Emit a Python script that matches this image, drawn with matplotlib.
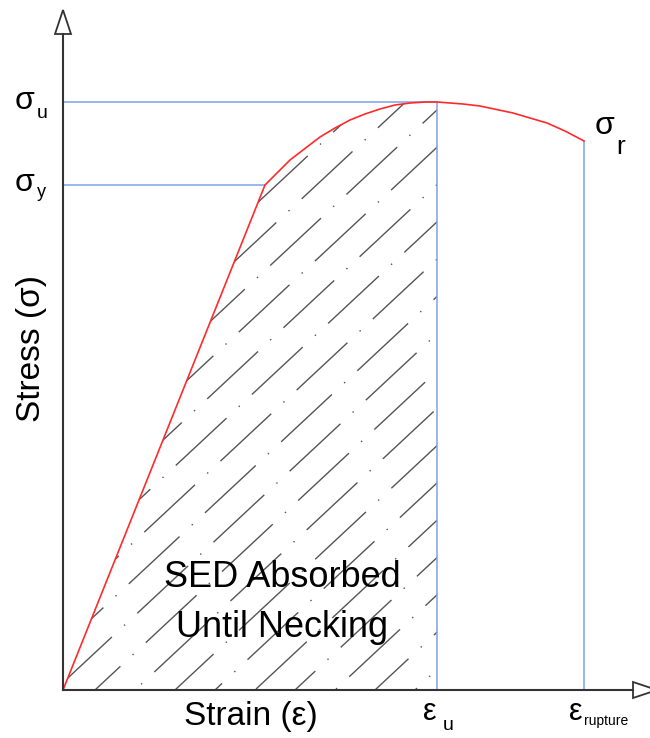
import numpy as np
import matplotlib.pyplot as plt
from matplotlib.patches import Polygon

# === Dados ===
# curva tensão-deformação (unidades arbitrárias)
deformacao = [0, 202, 215, 227, 240, 257, 272, 287, 302, 317, 332, 347, 362, 374,
              400, 417, 450, 484, 502, 521]
tensao = [0, 505, 518, 530, 540, 553, 562, 570, 576, 581, 585, 587, 588, 588,
          586, 584, 577, 567, 559, 549]

eps_y, sig_y = 202, 505      # escoamento
eps_u, sig_u = 374, 588      # tensão última
eps_r, sig_r = 521, 549      # ruptura

plt.rcParams['font.family'] = ['Liberation Sans', 'DejaVu Sans']

fig = plt.figure(figsize=(6.5, 7.38), dpi=100)
ax = fig.add_axes([0, 0, 1, 1])
ax.set_xlim(-63, 587)
ax.set_ylim(-48, 690)
ax.axis('off')

# === Região hachurada (até o empescoçamento) ===
i_u = deformacao.index(eps_u)
xs = deformacao[:i_u + 1] + [eps_u]
ys = tensao[:i_u + 1] + [0]
regiao = Polygon(np.column_stack([xs, ys]), closed=True, facecolor='none', edgecolor='none')
ax.add_patch(regiao)
ang = np.deg2rad(43)
for k, x0 in enumerate(np.arange(-1000, 400, 40) + 32):
    xl = np.array([x0, x0 + 1000])
    yl = np.tan(ang) * (xl - x0)
    ln, = ax.plot(xl, yl, color='#555555', lw=1.0,
                  linestyle=((k * 31) % 75, (50, 12, 1, 12)))
    ln.set_clip_path(regiao)

# === Linhas de referência (azul) ===
azul = '#7fa0ea'
ax.plot([0, eps_u], [sig_u, sig_u], color=azul, lw=1.1)
ax.plot([0, eps_y], [sig_y, sig_y], color=azul, lw=1.1)
ax.plot([eps_u, eps_u], [0, sig_u], color=azul, lw=1.1)
ax.plot([eps_r, eps_r], [0, sig_r], color=azul, lw=1.1)

# === Curva ===
ax.plot(deformacao, tensao, color='#ff2a2a', lw=1.2)

# === Eixos com setas abertas ===
ax.plot([0, 0], [0, 656], color='#333333', lw=1.5)
ax.plot([0, 570], [0, 0], color='#333333', lw=1.5)
ax.add_patch(Polygon([[-8, 656], [8, 656], [0, 680]], closed=True,
                     facecolor='white', edgecolor='#333333', lw=1.3))
ax.add_patch(Polygon([[570, -8], [570, 8], [594, 0]], closed=True,
                     facecolor='white', edgecolor='#333333', lw=1.3))

# === Textos ===
ax.text(-31, 342, 'Stress (σ)', rotation=90, fontsize=24, ha='center', va='center')
ax.text(188, -35, 'Strain (ε)', fontsize=24, ha='center', va='baseline')
ax.text(219, 103, 'SED Absorbed', fontsize=26, ha='center', va='baseline')
ax.text(219, 53, 'Until Necking', fontsize=26, ha='center', va='baseline')

ax.text(-48, 581, 'σ', fontsize=23, va='baseline')
ax.text(-26, 572, 'u', fontsize=14, va='baseline')
ax.text(-48, 499, 'σ', fontsize=23, va='baseline')
ax.text(-26, 493, 'y', fontsize=13, va='baseline')

ax.text(532, 556, 'σ', fontsize=23, va='baseline')
ax.text(553, 536, 'r', fontsize=19, va='baseline')

ax.text(eps_u - 14, -30, 'ε', fontsize=22, va='baseline')
ax.text(eps_u + 6, -40, 'u', fontsize=14, va='baseline')
ax.text(eps_r - 15, -30, 'ε', fontsize=22, va='baseline')
ax.text(eps_r + 0, -35, 'rupture', fontsize=10, va='baseline')

plt.savefig('out.png', dpi=100)
